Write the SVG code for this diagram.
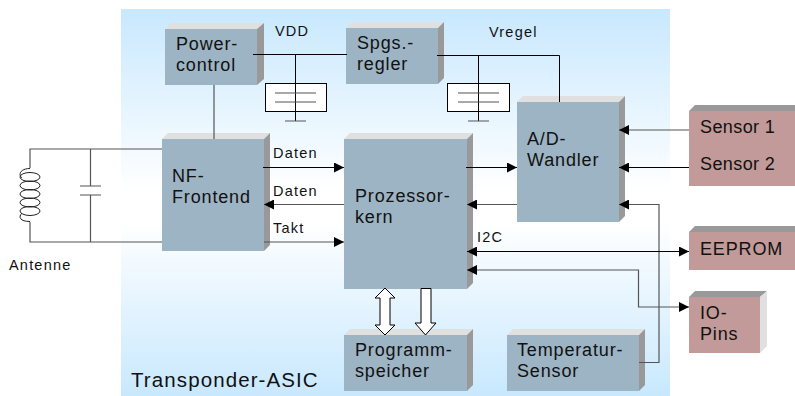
<svg xmlns="http://www.w3.org/2000/svg" width="795" height="396" viewBox="0 0 795 396">
<style>
text{font-family:"Liberation Sans",Arial,sans-serif;fill:#111}
.n{font-size:18px;letter-spacing:.85px}
.t{font-size:18px;letter-spacing:.4px}
.s{font-size:14.500px;letter-spacing:1.200px}
.f{fill:#9db4c4}.r{fill:#c19a99}.l{fill:#e0e0e0}.d{fill:#999}
.w{fill:none;stroke:#000;stroke-width:1}
.g{fill:none;stroke:#555;stroke-width:1.2}
.p{fill:#fff;stroke:#000;stroke-width:1}
.c{fill:none;stroke:#222;stroke-width:1}
</style>
<defs>
<linearGradient id="bg" x1="0" y1="0" x2="0" y2="1"><stop offset="0" stop-color="#c8e8fe"/><stop offset=".47" stop-color="#fff"/><stop offset=".55" stop-color="#fff"/><stop offset="1" stop-color="#c8e8fe"/></linearGradient>
<marker id="a" markerUnits="userSpaceOnUse" markerWidth="11" markerHeight="10" refX="10" refY="5" orient="auto-start-reverse"><path d="M0 0L10 5L0 10Z" fill="#000"/></marker>
</defs>
<rect id="asic" x="121" y="9" width="549" height="387" fill="url(#bg)"/>
<g id="power"><path class="l" d="M165 29l6-6h93l-7 6z"/><path class="d" d="M257 29l7-6v56l-7 6z"/><rect class="f" x="165" y="29" width="92" height="56"/><text class="n" x="176" y="50">Power-</text><text class="n" x="176" y="71">control</text></g>
<g id="regler"><path class="l" d="M346 28l6-6h92l-6 6z"/><path class="d" d="M438 28l6-6v56l-6 6z"/><rect class="f" x="346" y="28" width="92" height="56"/><text class="n" x="357" y="49">Spgs.-</text><text class="n" x="357" y="70">regler</text></g>
<g id="frontend"><path class="l" d="M162 139l6-6h102l-6 6z"/><path class="d" d="M264 139l6-6v112l-6 6z"/><rect class="f" x="162" y="139" width="102" height="112"/><text class="n" x="172" y="182">NF-</text><text class="n" x="172" y="203">Frontend</text></g>
<g id="prozessor"><path class="l" d="M344 139l6-6h123l-6 6z"/><path class="d" d="M467 139l6-6v150l-6 6z"/><rect class="f" x="344" y="139" width="123" height="150"/><text class="n" x="355" y="202">Prozessor-</text><text class="n" x="355" y="223">kern</text></g>
<g id="wandler"><path class="l" d="M517 102l6-6h102l-6 6z"/><path class="d" d="M619 102l6-6v120l-6 6z"/><rect class="f" x="517" y="102" width="102" height="120"/><text class="n" x="527" y="145">A/D-</text><text class="n" x="527" y="166">Wandler</text></g>
<g id="programm"><path class="l" d="M344 335l6-6h123l-6 6z"/><path class="d" d="M467 335l6-6v56l-6 6z"/><rect class="f" x="344" y="335" width="123" height="56"/><text class="n" x="355" y="356">Programm-</text><text class="n" x="355" y="377">speicher</text></g>
<g id="temperatur"><path class="l" d="M507 335l6-6h132l-6 6z"/><path class="d" d="M639 335l6-6v56l-6 6z"/><rect class="f" x="507" y="335" width="132" height="56"/><text class="n" x="517" y="356">Temperatur-</text><text class="n" x="517" y="377">Sensor</text></g>
<g id="sensoren"><path class="d" d="M689 111l6-6h100v6z"/><rect class="r" x="689" y="111" width="106" height="75"/><text class="t" x="700" y="133">Sensor 1</text><text class="t" x="700" y="170">Sensor 2</text></g>
<g id="eeprom"><path class="d" d="M689 232l6-6h100v6z"/><rect class="r" x="689" y="232" width="106" height="38"/><text class="n" x="700" y="255">EEPROM</text></g>
<g id="io"><path class="d" d="M689 297l6-6h72l-7 6z"/><path class="l" d="M760 297l7-6v55l-7 7z"/><rect class="r" x="689" y="297" width="71" height="56"/><text class="n" x="700" y="319">IO-</text><text class="n" x="700" y="340">Pins</text></g>
<g id="connectors">
<path class="w" d="M253 54.500H347M295.500 54.500V83"/>
<path class="w" d="M437 55.500H559.500V102M478.500 55.500V83"/>
<path class="g" d="M214 85V139"/>
<rect x="265.500" y="83.500" width="61" height="28" class="p"/>
<path class="w" d="M295.500 83V121"/><path class="g" d="M275 93H316M275 102H316M285 121H306"/>
<rect x="447.500" y="83.500" width="62" height="28" class="p"/>
<path class="w" d="M478.500 83V121"/><path class="g" d="M458 93H499M458 102H499M468 121H489"/>
<path class="g" d="M162 149H30V168M30 222V242H162M90.500 149V186M90.500 195V242M80 186H101M80 195H101"/>
<path class="c" d="M30 168.500C20 168.500 18 175 22 178M40 177a10 4.500 0 1 1-20 0a10 4.500 0 1 1 20 0M40 185.500a10 4.500 0 1 1-20 0a10 4.500 0 1 1 20 0M40 194a10 4.500 0 1 1-20 0a10 4.500 0 1 1 20 0M40 202.500a10 4.500 0 1 1-20 0a10 4.500 0 1 1 20 0M40 211a10 4.500 0 1 1-20 0a10 4.500 0 1 1 20 0M22 213C18 217 20 221.500 30 221.500"/>
<path class="w" marker-end="url(#a)" d="M263 167.500H344"/>
<path class="g" marker-end="url(#a)" d="M344 204.500H264"/>
<path class="g" marker-end="url(#a)" d="M264 242H344"/>
<path class="w" marker-end="url(#a)" d="M466 167.500H517"/>
<path class="g" marker-end="url(#a)" d="M517 204.500H467"/>
<path class="g" marker-end="url(#a)" d="M689 130H619"/>
<path class="w" marker-end="url(#a)" d="M689 167.500H619"/>
<path class="g" marker-end="url(#a)" d="M639 362.500H659V204.500H619"/>
<path class="w" marker-start="url(#a)" marker-end="url(#a)" d="M467 251.500H689"/>
<path class="g" marker-start="url(#a)" marker-end="url(#a)" d="M467 270H638.500V307H689"/>
<path class="p" d="M385 288L395 298H390V325H395L385 335L375 325H380V298H375Z"/>
<path class="p" d="M421 288.500H431V323H436L425.500 335L415 323H421Z"/>
</g>
<g id="labels">
<text class="s" x="275" y="36">VDD</text><text class="s" x="489" y="37">Vregel</text>
<text class="s" x="273" y="158">Daten</text><text class="s" x="273" y="196">Daten</text><text class="s" x="273" y="233">Takt</text>
<text class="s" x="477" y="242">I2C</text><text class="s" x="9" y="270">Antenne</text>
<text x="131" y="387" style="font-size:20.500px;letter-spacing:1.100px">Transponder-ASIC</text>
</g>
</svg>
